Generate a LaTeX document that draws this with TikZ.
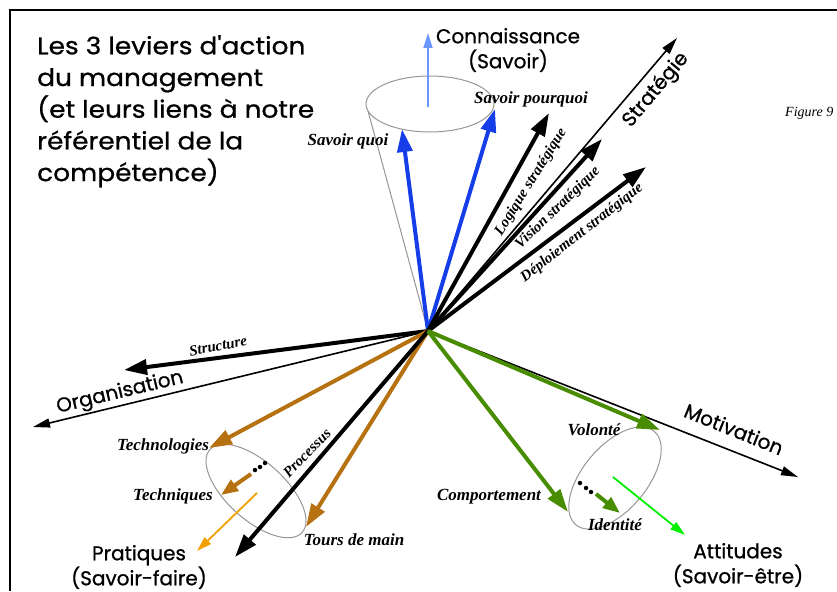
\documentclass[tikz,border=0pt]{standalone}
\usepackage{fontspec}
\setmainfont{Liberation Serif}
\newfontfamily\geo{Poppins}[FakeBold=0.8]
\newfontfamily\geowide{Poppins}[FakeBold=0.8, FakeStretch=1.1]
\usetikzlibrary{arrows.meta}
\definecolor{savblue}{RGB}{22,62,232}
\definecolor{skyblue}{RGB}{105,150,255}
\definecolor{savbrown}{RGB}{182,114,16}
\definecolor{savorange}{RGB}{242,160,0}
\definecolor{savgreen}{RGB}{72,140,0}
\definecolor{limegreen}{RGB}{0,240,0}
\definecolor{conegray}{RGB}{150,150,150}
\tikzset{
  lever/.style={line width=4pt, -{Triangle[length=23pt,width=15pt]}},
  axis/.style={line width=1.6pt, -{Triangle[length=17pt,width=9pt]}},
  pole/.style={line width=1.8pt, -{Triangle[length=15pt,width=9pt]}},
  sublever/.style={line width=4pt, -{Triangle[length=17pt,width=13pt]}},
  rim/.style={draw=conegray, line width=1pt},
  big/.style={font=\geo\fontsize{20}{25}\selectfont, inner sep=0pt},
  tag/.style={font=\bfseries\itshape\fontsize{17}{19}\selectfont, inner sep=0pt},
  slanttag/.style={font=\bfseries\itshape\fontsize{15}{17}\selectfont, inner sep=0pt},
  dot/.style={fill=black, circle, inner sep=0pt, minimum size=4.5pt}
}
\begin{document}
\begin{tikzpicture}[x=1pt,y=-1pt]
\useasboundingbox (0,0) rectangle (837,591);
% frame
\draw[line width=2pt] (10,591) -- (10,10) -- (837,10);

% title
\node[anchor=north west, align=left, inner sep=0pt,
      font=\geowide\fontsize{24}{31.7}\selectfont] (title) at (37,35)
  {Les 3 leviers d'action\\du management\\(et leurs liens à notre\\référentiel de la\\compétence)};
\node[font=\itshape\fontsize{14}{16}\selectfont, inner sep=0pt, anchor=west] (fig) at (785,113) {Figure 9};

% central point and end points
\coordinate (O) at (428,331);
\coordinate (quoi) at (402,129);
\coordinate (pourquoi) at (495,109);
\coordinate (logique) at (549,113);
\coordinate (vision) at (602,139);
\coordinate (deploi) at (646,167);
\coordinate (strat) at (677,38);
\coordinate (struct) at (124,370);
\coordinate (orga) at (33,427);
\coordinate (techno) at (209,448);
\coordinate (tours) at (306,527);
\coordinate (proc) at (235,557);
\coordinate (volonte) at (660,430);
\coordinate (comport) at (568,512);
\coordinate (motiv) at (798,477);

% knowledge cone
\coordinate (conetop) at (430,104);
\coordinate (coneleft) at (368,111);
\draw[rim] (conetop) ellipse[x radius=64pt, y radius=28pt];
\draw[rim] (coneleft) -- (O);
\coordinate (savA) at (428,107);
\coordinate (savB) at (428,33);
\draw[pole, skyblue] (savA) -- (savB);

% practice ellipse
\coordinate (pracC) at (256,491);
\draw[rim, rotate around={-42:(pracC)}] (pracC) ellipse[x radius=62pt, y radius=29pt];
% attitude ellipse
\coordinate (attC) at (615,478);
\draw[rim, rotate around={50:(attC)}] (attC) ellipse[x radius=61pt, y radius=32pt];

% axes
\draw[axis] (O) -- (strat);
\draw[axis] (O) -- (orga);
\draw[axis] (O) -- (motiv);

% levers
\draw[lever, savblue] (O) -- (quoi);
\draw[lever, savblue] (O) -- (pourquoi);
\draw[lever] (O) -- (logique);
\draw[lever] (O) -- (vision);
\draw[lever] (O) -- (deploi);
\draw[lever] (O) -- (struct);
\draw[lever, savbrown] (O) -- (techno);
\draw[lever, savbrown] (O) -- (tours);
\draw[lever] (O) -- (proc);
\draw[lever, savgreen] (O) -- (volonte);
\draw[lever, savgreen] (O) -- (comport);

% techniques
\node[dot] (t1) at (265,463) {};
\node[dot] (t2) at (260,467) {};
\node[dot] (t3) at (255,470) {};
\coordinate (techA) at (251,474);
\coordinate (techB) at (221,495);
\draw[sublever, savbrown] (techA) -- (techB);
\coordinate (pratA) at (257,493);
\coordinate (pratB) at (197,551);
\draw[pole, savorange] (pratA) -- (pratB);

% identity
\node[dot] (i1) at (580,483) {};
\node[dot] (i2) at (586,488) {};
\node[dot] (i3) at (591,492) {};
\coordinate (idA) at (596,494);
\coordinate (idB) at (620,513);
\draw[sublever, savgreen] (idA) -- (idB);
\coordinate (attA) at (613,477);
\coordinate (attB) at (685,535);
\draw[pole, limegreen] (attA) -- (attB);

% pole labels
\node[big, align=center] (conn) at (508,50) {Connaissance\\(Savoir)};
\node[big, rotate=50] (lstrat) at (656,90) {Stratégie};
\node[big, rotate=13.5] (lorga) at (120,393) {Organisation};
\node[big, rotate=-22] (lmotiv) at (734,429) {Motivation};
\node[big, align=center] (lprat) at (139,567) {Pratiques\\(Savoir-faire)};
\node[big, align=center] (latt) at (738,565) {Attitudes\\(Savoir-être)};

% lever labels
\node[tag] (lquoi) at (348,141) {Savoir quoi};
\node[tag] (lpourquoi) at (531,99) {Savoir pourquoi};
\node[slanttag, rotate=58] (llog) at (531,182) {Logique stratégique};
\node[slanttag, rotate=44] (lvis) at (558,208) {Vision stratégique};
\node[slanttag, rotate=38] (ldep) at (582,233) {Déploiement stratégique};
\node[slanttag, rotate=11] (lstruct) at (218,346) {Structure};
\node[tag] (ltechno) at (163,446) {Technologies};
\node[tag] (ltech) at (173,496) {Techniques};
\node[slanttag, rotate=46] (lproc) at (307,453) {Processus};
\node[tag] (ltours) at (354,540) {Tours de main};
\node[tag] (lcomp) at (489,497) {Comportement};
\node[tag] (lvol) at (594,430) {Volonté};
\node[tag] (lid) at (615,525) {Identité};
\end{tikzpicture}
\end{document}
